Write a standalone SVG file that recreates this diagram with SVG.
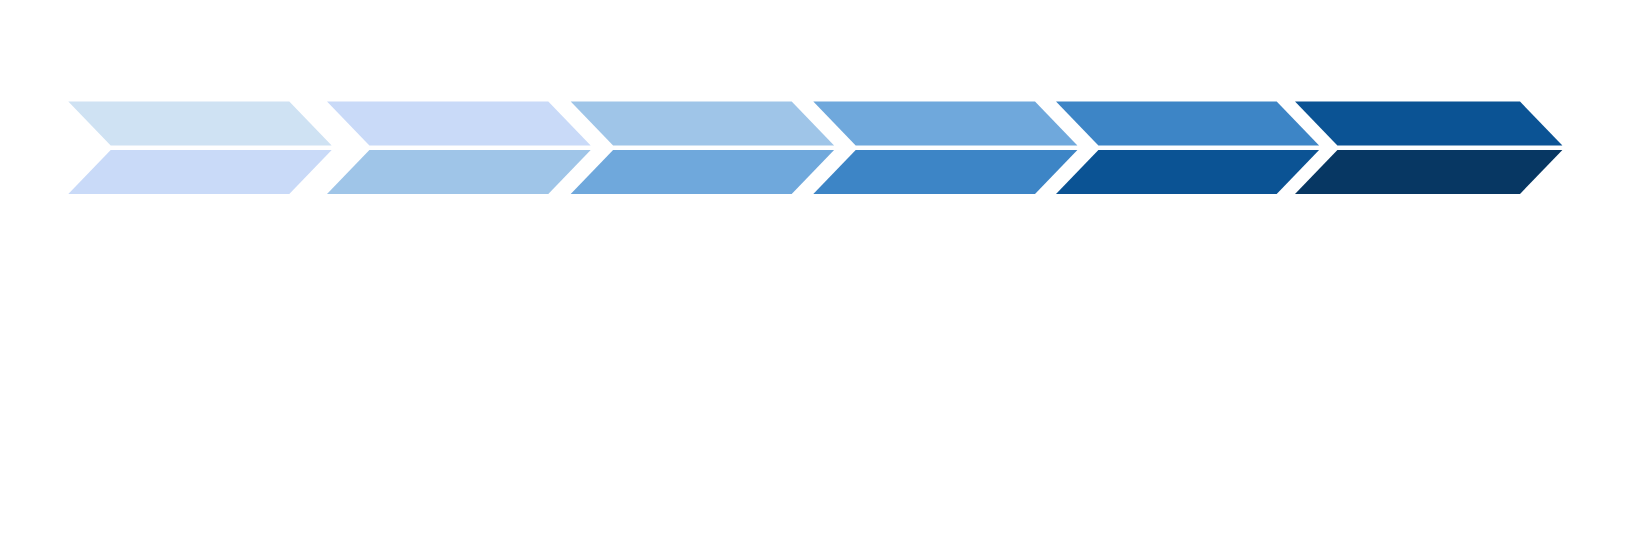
<svg xmlns="http://www.w3.org/2000/svg" width="1632" height="540" viewBox="0 0 1632 540">
<style>
.c1{fill:#cfe2f3}.c2{fill:#c9daf8}.c3{fill:#9fc5e8}.c4{fill:#6fa8dc}.c5{fill:#3d85c6}.c6{fill:#0b5394}.c7{fill:#073763}
</style>
<rect width="1632" height="540" fill="#ffffff"/>
<g id="step1">
<polygon class="c1" points="68.3,101.5 289.3,101.5 331.7,145.5 110.7,145.5"/>
<polygon class="c2" points="110.7,150 331.7,150 289.3,194 68.3,194"/>
</g>
<g id="step2">
<polygon class="c2" points="327,101.5 548.3,101.5 590.7,145.5 369.4,145.5"/>
<polygon class="c3" points="369.4,150 590.7,150 548.3,194 327,194"/>
</g>
<g id="step3">
<polygon class="c3" points="570.7,101.5 791.7,101.5 834.1,145.5 613.1,145.5"/>
<polygon class="c4" points="613.1,150 834.1,150 791.7,194 570.7,194"/>
</g>
<g id="step4">
<polygon class="c4" points="813.3,101.5 1035,101.5 1077.4,145.5 855.7,145.5"/>
<polygon class="c5" points="855.7,150 1077.4,150 1035,194 813.3,194"/>
</g>
<g id="step5">
<polygon class="c5" points="1056,101.5 1276.7,101.5 1319.1,145.5 1098.4,145.5"/>
<polygon class="c6" points="1098.4,150 1319.1,150 1276.7,194 1056,194"/>
</g>
<g id="step6">
<polygon class="c6" points="1295,101.5 1520,101.5 1562.4,145.5 1337.4,145.5"/>
<polygon class="c7" points="1337.4,150 1562.4,150 1520,194 1295,194"/>
</g>
<g id="connectors"/>
</svg>
